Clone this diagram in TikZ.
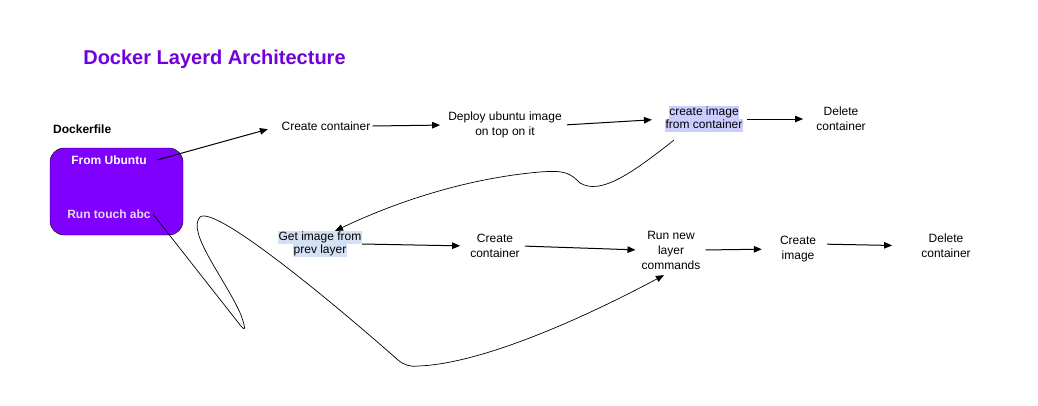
\documentclass[tikz,border=0pt]{standalone}
\usepackage{fontspec}
\setmainfont{Liberation Sans}
\usetikzlibrary{arrows.meta}

\definecolor{boxviolet}{RGB}{127,0,255}
\definecolor{titleviolet}{RGB}{112,0,220}
\definecolor{hlviolet}{RGB}{204,204,255}
\definecolor{hlblue}{RGB}{212,225,245}
\definecolor{runtext}{RGB}{232,214,236}

% highlighted text line
\newcommand{\hlline}[2]{{\setlength{\fboxsep}{0.5pt}\colorbox{#1}{\rule[-3pt]{0pt}{11pt}#2}}}

\begin{document}
\begin{tikzpicture}[x=1pt, y=-1pt,
    txt/.style={font=\fontsize{12}{15}\selectfont, align=center, inner sep=2pt},
    btxt/.style={font=\fontsize{12}{15}\bfseries\selectfont, align=center, inner sep=2pt},
    arr/.style={-{Triangle[length=8pt,width=6.5pt]}, line width=1pt},
    curve/.style={-{Triangle[length=8pt,width=6.5pt]}, line width=0.7pt}]
    \useasboundingbox (0,0) rectangle (1038,405);

    % Title
    \node[font=\fontsize{20}{24}\bfseries\selectfont, text=titleviolet] (title) at (214.5,59) {Docker Layerd Architecture};

    % Dockerfile box
    \node[btxt, anchor=west] (dflabel) at (51,129) {Dockerfile};
    \node[draw, fill=boxviolet, rounded corners=14pt, minimum width=133pt, minimum height=87pt] (dfbox) at (116.5,191.5) {};
    \node[btxt, text=white, inner xsep=10pt] (from) at (109,160) {From Ubuntu};
    \node[btxt, text=runtext] (run) at (109,214) {Run touch abc};

    % Top row
    \node[txt] (cont1) at (326,126) {Create container};
    \node[txt] (deploy) at (505,125) {Deploy ubuntu image\\on top on it};
    \node[txt, inner sep=0pt] (climg) at (704,119) {\hlline{hlviolet}{create image}\\[-2pt]\hlline{hlviolet}{from container}};
    \node[txt] (del1) at (841,119) {Delete\\container};

    % Bottom row
    \node[txt, inner sep=0pt] (getimg) at (320,244) {\hlline{hlblue}{Get image from}\\[-2pt]\hlline{hlblue}{prev layer}};
    \node[txt] (cont2) at (495,246) {Create\\container};
    \node[txt] (runnew) at (671,250) {Run new\\layer\\commands};
    \node[txt] (crimg) at (798,249) {Create\\image};
    \node[txt] (del2) at (946,246) {Delete\\container};

    \coordinate (climgout) at (674,140);

    % Arrows
    \draw[arr, shorten >=12pt] (from.east) -- (cont1.west);
    \draw[arr, shorten >=6pt] (cont1.east) -- (deploy.west);
    \draw[arr, shorten <=3pt, shorten >=13pt] (deploy.east) -- (climg.west);
    \draw[arr, shorten <=4pt, shorten >=11pt] (climg.east) -- (del1.west);

    \draw[arr, shorten >=8pt] (getimg.east) -- (cont2.west);
    \draw[arr, shorten <=3pt, shorten >=4pt] (cont2.east) -- (runnew.west);
    \draw[arr, shorten <=3pt, shorten >=16pt] (runnew.east) -- (crimg.west);
    \draw[arr, shorten <=9pt, shorten >=27pt] ([yshift=5pt]crimg.east) -- (del2.west);

    % Curved connectors
    \draw[curve] (climgout) .. controls (630,175) and (600,195) .. (580,183)
        .. controls (570,173) and (565,170) .. (540,172)
        .. controls (470,178) and (400,200) .. ([xshift=15pt]getimg.north);
    \draw[curve, shorten >=8pt] (run.east) -- (237,321)
        .. controls (245,332) and (247,332) .. (241,315)
        .. controls (226,280) and (186,232) .. (200,217)
        .. controls (215,205) and (330,300) .. (398,360)
        .. controls (404,365) and (410,367) .. (418,366)
        .. controls (480,364) and (580,320) .. (runnew.south);
\end{tikzpicture}
\end{document}
